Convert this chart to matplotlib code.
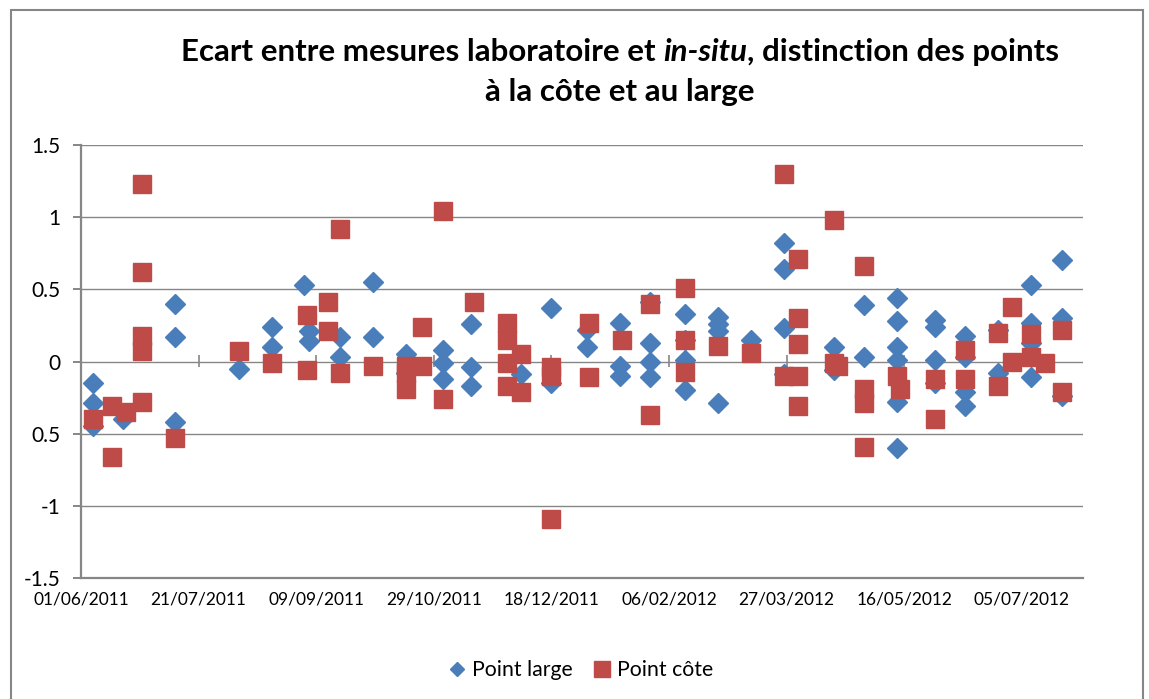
import matplotlib
matplotlib.use("Agg")
import matplotlib.pyplot as plt
import matplotlib.dates as mdates
from matplotlib.patches import Rectangle
from matplotlib.ticker import FixedLocator
import numpy as np

plt.rcParams['font.family'] = ['Lato', 'DejaVu Sans']

# Point large : sampling dates and values measured that day
large_dates = ['2011-06-06', '2011-06-19', '2011-07-11', '2011-08-07', '2011-08-21',
               '2011-09-04', '2011-09-06', '2011-09-19', '2011-10-03', '2011-10-17',
               '2011-11-02', '2011-11-14', '2011-12-05', '2011-12-18', '2012-01-02',
               '2012-01-16', '2012-01-29', '2012-02-13', '2012-02-27', '2012-03-12',
               '2012-03-26', '2012-04-16', '2012-04-29', '2012-05-13', '2012-05-29',
               '2012-06-11', '2012-06-25', '2012-07-09', '2012-07-22']
large_values = [[-0.15, -0.29, -0.45], [-0.40], [0.40, 0.17, -0.42], [-0.05], [0.24, 0.10],
                [0.53], [0.21, 0.14], [0.17, 0.03], [0.55, 0.17], [0.05, -0.08],
                [0.08, -0.01, -0.12], [0.26, -0.04, -0.17], [-0.09], [0.37, -0.15], [0.22, 0.10],
                [0.27, -0.03, -0.10], [0.41, 0.13, 0.0, -0.11], [0.33, 0.15, 0.01, -0.20],
                [0.31, 0.26, 0.21, -0.29], [0.15],
                [0.82, 0.64, 0.23, -0.09], [0.10, -0.06], [0.39, 0.03],
                [0.44, 0.28, 0.10, 0.01, -0.28, -0.60], [0.29, 0.24, 0.01, -0.15],
                [0.18, 0.03, -0.21, -0.31], [0.22, -0.08], [0.53, 0.27, 0.13, -0.11],
                [0.70, 0.30, -0.24]]

# Point côte
cote_dates = ['2011-06-06', '2011-06-14', '2011-06-20', '2011-06-27', '2011-07-11',
              '2011-08-07', '2011-08-21', '2011-09-05', '2011-09-14', '2011-09-19',
              '2011-10-03', '2011-10-17', '2011-10-24', '2011-11-02', '2011-11-15',
              '2011-11-29', '2011-12-05', '2011-12-18', '2012-01-03', '2012-01-17',
              '2012-01-29', '2012-02-13', '2012-02-27', '2012-03-12', '2012-03-26',
              '2012-04-01', '2012-04-16', '2012-04-18', '2012-04-29', '2012-05-13',
              '2012-05-14', '2012-05-29', '2012-06-11', '2012-06-25', '2012-07-01',
              '2012-07-09', '2012-07-15', '2012-07-22']
cote_values = [[-0.40], [-0.31, -0.66], [-0.35], [1.23, 0.62, 0.18, 0.07, -0.28], [-0.53],
               [0.07], [-0.01], [0.32, -0.06], [0.41, 0.21], [0.92, -0.08],
               [-0.03], [-0.03, -0.08, -0.19], [0.24, -0.03], [1.04, -0.26], [0.41],
               [0.27, 0.15, -0.01, -0.17], [0.05, -0.21], [-0.04, -0.10, -1.09], [0.27, -0.11], [0.15],
               [0.40, -0.37], [0.51, 0.15, -0.07], [0.11], [0.06], [1.30, -0.10],
               [0.71, 0.30, 0.12, -0.10, -0.31], [0.98, -0.01], [-0.03], [0.66, -0.19, -0.29, -0.59], [-0.10],
               [-0.19], [-0.12, -0.40], [0.08, -0.12], [0.20, -0.17], [0.38, 0.0],
               [0.19, 0.03], [-0.01], [0.22, -0.21]]

y_ticks = [-1.5, -1, -0.5, 0, 0.5, 1, 1.5]
y_ticklabels = ['-1.5', '-1', '0.5', '0', '0.5', '1', '1.5']
x_start, x_end = '2011-06-01', '2012-07-31'


def flatten(dates, values):
    xs, ys = [], []
    for d, vals in zip(dates, values):
        for v in vals:
            xs.append(np.datetime64(d))
            ys.append(v)
    return np.array(xs), np.array(ys)


W, H = 1149, 699
fig = plt.figure(figsize=(W / 100, H / 100), dpi=100)
ax = fig.add_axes([81 / W, 1 - 578 / H, (1083 - 81) / W, (578 - 145) / H])

grey = '#868686'
xl, yl = flatten(large_dates, large_values)
xc, yc = flatten(cote_dates, cote_values)
ax.plot(xl, yl, 'D', color='#4A7EBB', ms=10.5, mec='#4A7EBB', label='Point large', zorder=3)
ax.plot(xc, yc, 's', color='#BE4B48', ms=13.5, mec='#BE4B48', label='Point côte', zorder=4)

x0 = mdates.date2num(np.datetime64(x_start))
x1 = mdates.date2num(np.datetime64(x_end))
ticks = np.arange(x0, x1, 50)
ax.set_xlim(x0, x1)
ax.set_ylim(-1.5, 1.5)
ax.xaxis.set_major_locator(FixedLocator(ticks))
ax.xaxis.set_major_formatter(mdates.DateFormatter('%d/%m/%Y'))
ax.set_yticks(y_ticks)
ax.set_yticklabels(y_ticklabels)

ax.yaxis.grid(True, color=grey, lw=1.0)
ax.set_axisbelow(True)
for s in ['top', 'right']:
    ax.spines[s].set_visible(False)
for s in ['left', 'bottom']:
    ax.spines[s].set_color(grey)
    ax.spines[s].set_linewidth(1.6)
ax.tick_params(axis='x', length=0, pad=10, labelsize=12.5, labelcolor='#000000')
ax.tick_params(axis='y', length=6, width=1.4, color=grey, pad=9, labelsize=15)

# tick marks of the horizontal axis, which crosses at 0
sec = ax.secondary_xaxis(0.5)
sec.set_xticks(ticks)
sec.tick_params(direction='inout', length=9, width=1.2, color=grey,
                labelbottom=False, labeltop=False)
sec.spines['bottom'].set_visible(False)
sec.spines['top'].set_visible(False)

# chart border
fig.patches.append(Rectangle((11 / W, -0.05), (1143 - 11) / W, 1.05 - 10 / H,
                             transform=fig.transFigure, fill=False, ec=grey, lw=1.5))

# title, with italic in-situ
def title_line(parts, y, xc_px):
    texts = [fig.text(0, y, s, fontsize=22.5, fontweight='bold', fontstyle=st,
                      va='center', ha='left') for s, st in parts]
    fig.canvas.draw()
    r = fig.canvas.get_renderer()
    widths = [t.get_window_extent(r).width for t in texts]
    x = xc_px - sum(widths) / 2
    for t, w in zip(texts, widths):
        t.set_x(x / W)
        x += w

title_line([('Ecart entre mesures laboratoire et ', 'normal'), ('in-situ', 'italic'),
            (', distinction des points', 'normal')], 1 - 52 / H, 620)
title_line([('à la côte et au large', 'normal')], 1 - 92 / H, 620)

leg = fig.legend(loc='center', bbox_to_anchor=(581 / W, 1 - 670 / H), ncol=2, frameon=False,
                 fontsize=15.3, handletextpad=0.3, columnspacing=1.0,
                 handlelength=0.8)
leg.legend_handles[0].set_markersize(6.8)
leg.legend_handles[1].set_markersize(11.5)

fig.savefig('out.png', dpi=100)
